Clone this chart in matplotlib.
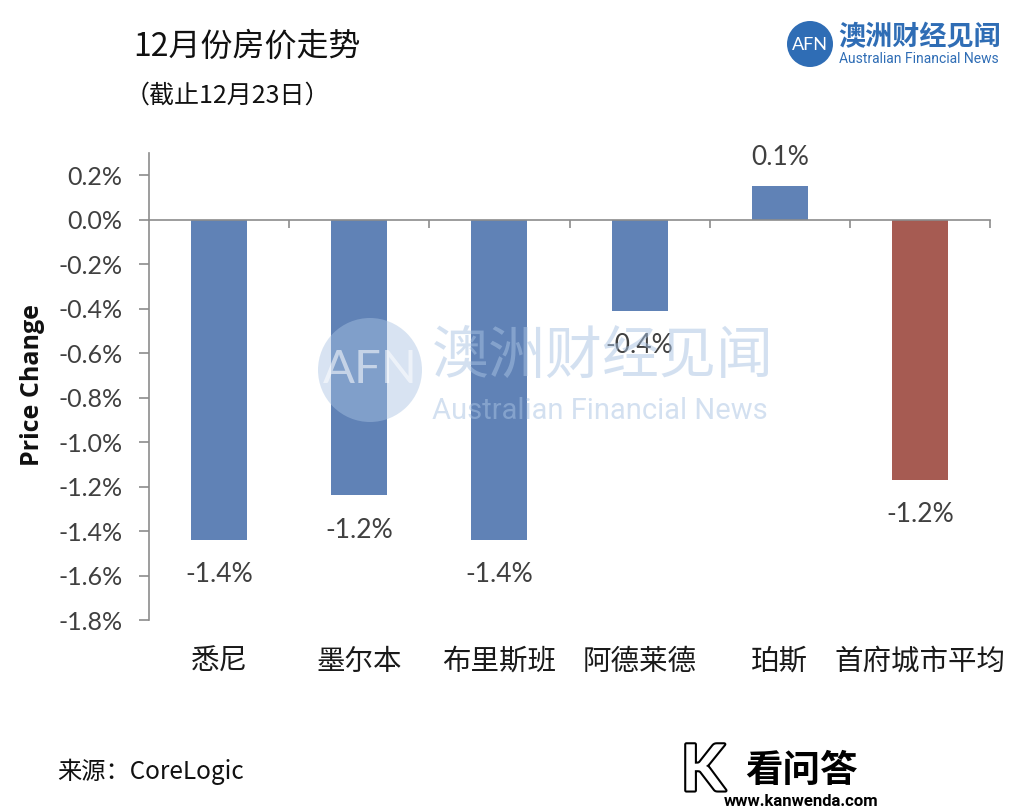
import matplotlib
matplotlib.use("Agg")
import matplotlib.pyplot as plt
import matplotlib.patheffects as pe
from matplotlib.patches import Circle
from matplotlib.transforms import blended_transform_factory

# ---- data ----
categories = ["悉尼", "墨尔本", "布里斯班", "阿德莱德", "珀斯", "首府城市平均"]
values = [-1.44, -1.24, -1.44, -0.41, 0.15, -1.17]
value_labels = ["-1.4%", "-1.2%", "-1.4%", "-0.4%", "0.1%", "-1.2%"]
yticks = [0.2, 0.0, -0.2, -0.4, -0.6, -0.8, -1.0, -1.2, -1.4, -1.6, -1.8]
ytick_labels = ["0.2%", "0.0%", "-0.2%", "-0.4%", "-0.6%", "-0.8%", "-1.0%",
                "-1.2%", "-1.4%", "-1.6%", "-1.8%"]
title = "12月份房价走势"
subtitle = "（截止12月23日）"
source = "来源：CoreLogic"

CJK = ["Noto Sans CJK SC", "DejaVu Sans"]
LAT = ["Lato", "DejaVu Sans"]
plt.rcParams['font.family'] = CJK

BLUE = "#6082B6"
RED = "#A65B52"
GRAY = "#8C8C8C"
TXT = "#404040"

fig = plt.figure(figsize=(10.24, 8.11), dpi=100)
ax = fig.add_axes([149/1024, 1-620/811, (990-149)/1024, (620-153)/811])

x = list(range(len(categories)))
colors = [BLUE]*5 + [RED]
ax.bar(x, values, width=0.4, color=colors, zorder=2)

ax.set_xlim(-0.5, len(categories)-0.5)
ax.set_ylim(-1.8, 0.3)

for s in ["top", "right"]:
    ax.spines[s].set_visible(False)
ax.spines["left"].set_color(GRAY)
ax.spines["left"].set_linewidth(1.2)
ax.spines["bottom"].set_position(("data", 0))
ax.spines["bottom"].set_color(GRAY)
ax.spines["bottom"].set_linewidth(1.2)
ax.spines["bottom"].set_zorder(3)

ax.set_yticks(yticks)
ax.set_yticklabels(ytick_labels, fontfamily=LAT, fontsize=18, color=TXT)
ax.tick_params(axis="y", direction="out", length=7, width=1.2, color=GRAY, pad=12)
bounds = [i + 0.5 for i in x]
ax.set_xticks(bounds)
ax.set_xticklabels([""]*len(bounds))
ax.tick_params(axis="x", direction="out", length=6, width=1.2, color=GRAY)

# category labels
tr = blended_transform_factory(ax.transData, fig.transFigure)
for xi, c in zip(x, categories):
    ax.text(xi, 1-662/811, c, transform=tr, ha="center", va="center",
            fontsize=20.5, color="#1a1a1a", fontfamily=CJK)

# value labels
for xi, v, lab in zip(x, values, value_labels):
    off = -35 if v < 0 else 29
    ax.annotate(lab, (xi, v), xytext=(0, off), textcoords="offset pixels",
                ha="center", va="center", fontsize=19, color=TXT, fontfamily=LAT)

fig.text(33/1024, 1-385/811, "Price Change", rotation=90, ha="center", va="center",
         fontfamily=["Open Sans", "DejaVu Sans"], fontweight="bold", fontsize=18,
         color="#111111")

# titles
fig.text(133/1024, 1-47/811, title, ha="left", va="center", fontsize=23, color="#111111")
fig.text(125/1024, 1-96/811, subtitle, ha="left", va="center", fontsize=18, color="#111111")
fig.text(57/1024, 1-772/811, source, ha="left", va="center", fontsize=17.5, color="#111111")

# top-right logo
logo_blue = "#2F6DB5"
circ = Circle((810, 811-44), 23, transform=None, facecolor=logo_blue, edgecolor="none")
fig.patches.append(circ)
fig.text(810/1024, 1-45/811, "AFN", ha="center", va="center", fontsize=13,
         color="white", fontfamily=LAT)
fig.text(838/1024, 1-37/811, "澳洲财经见闻", ha="left", va="center", fontsize=19.5,
         color=logo_blue, fontweight="bold")
fig.text(839/1024, 1-59/811, "Australian Financial News", ha="left", va="center",
         fontsize=10, color=logo_blue, fontfamily=["Roboto", "DejaVu Sans"])

# watermark
wm = "#A9C3E3"
wcirc = Circle((370, 811-370), 52, transform=None, facecolor=wm, edgecolor="none",
               alpha=0.45, zorder=5)
fig.patches.append(wcirc)
fig.text(370/1024, 1-370/811, "AFN", ha="center", va="center", fontsize=34,
         color="white", alpha=0.55, fontfamily=LAT, zorder=6)
fig.text(432/1024, 1-357/811, "澳洲财经见闻", ha="left", va="center", fontsize=41,
         color=wm, alpha=0.5, zorder=6)
fig.text(432/1024, 1-411/811, "Australian Financial News", ha="left", va="center",
         fontsize=21, color=wm, alpha=0.5, fontfamily=["Roboto", "DejaVu Sans"], zorder=6)

# bottom-right watermark logo
fig.text(703/1024, 1-772/811, "K", ha="center", va="center", fontsize=46,
         color="white", fontweight="bold", fontfamily=LAT,
         path_effects=[pe.withStroke(linewidth=3, foreground="black")])
fig.text(745/1024, 1-770/811, "看问答", ha="left", va="center", fontsize=27,
         color="black", fontweight="bold")
fig.text(724/1024, 1-801/811, "www.kanwenda.com", ha="left", va="center",
         fontsize=12, color="black", fontweight="bold", fontfamily=["Roboto", "DejaVu Sans"])

fig.savefig("out.png", dpi=100, facecolor="white")
